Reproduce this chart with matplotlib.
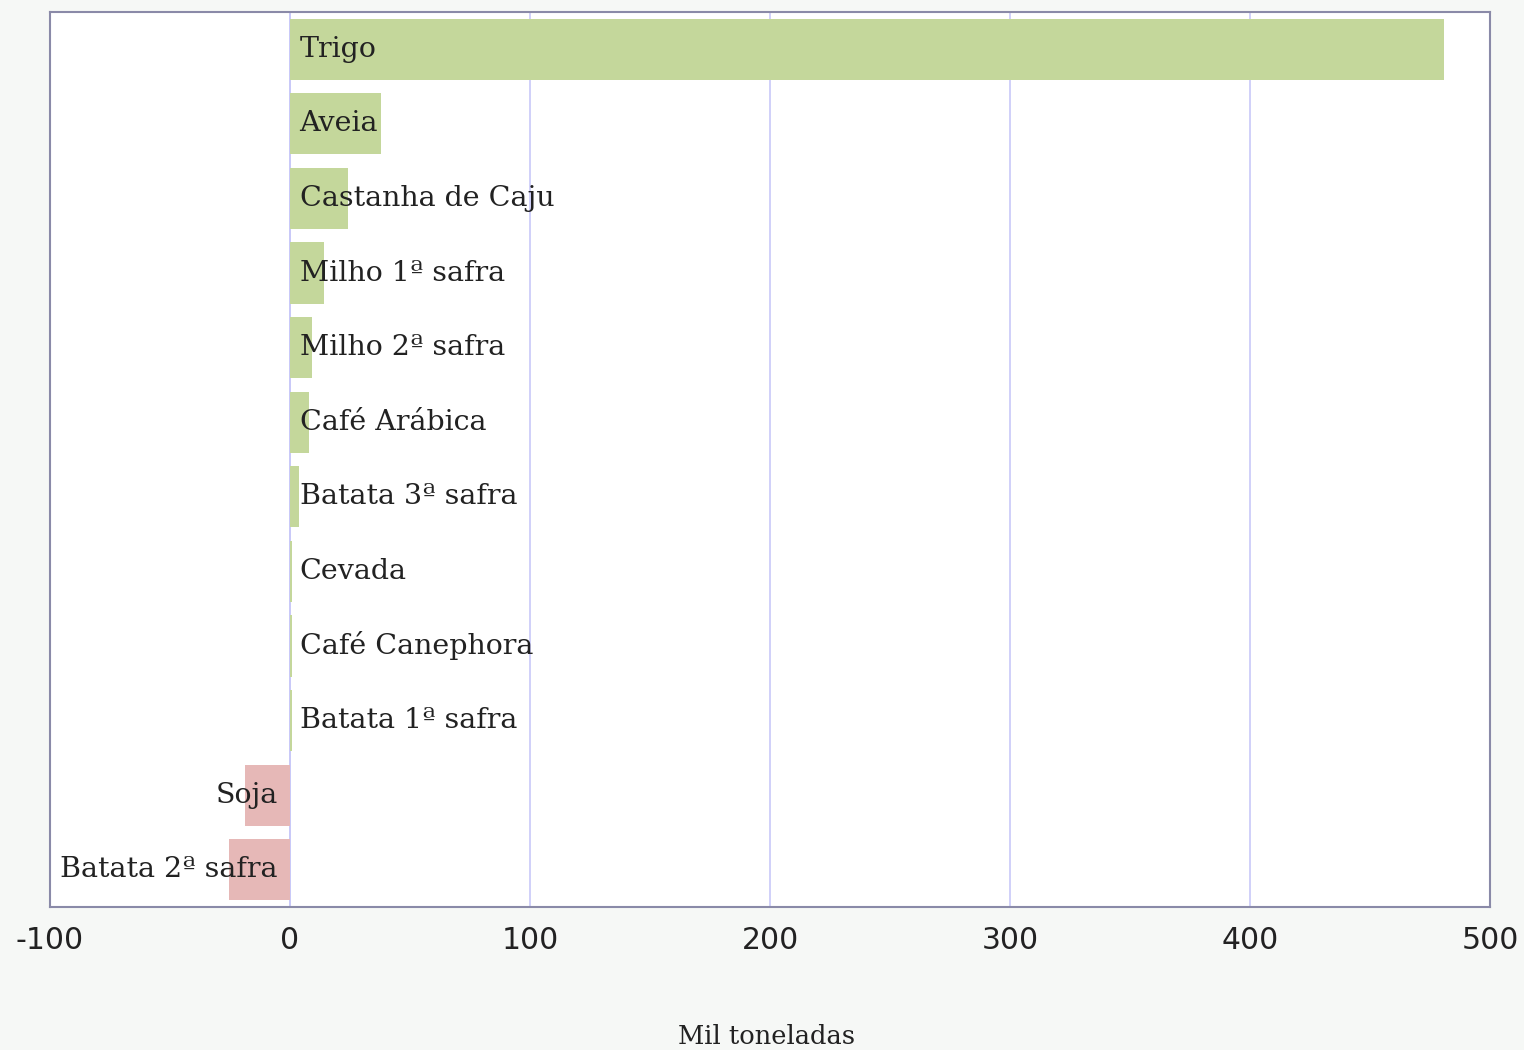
import matplotlib
matplotlib.use("Agg")
import matplotlib.pyplot as plt

# produtos e variacao (mil toneladas)
produtos = ["Trigo", "Aveia", "Castanha de Caju", "Milho 1ª safra", "Milho 2ª safra",
            "Café Arábica", "Batata 3ª safra", "Cevada", "Café Canephora",
            "Batata 1ª safra", "Soja", "Batata 2ª safra"]
valores = [481, 38, 24, 14, 9, 8, 3.7, 0.8, 0.7, 0.8, -18.7, -25.4]
xticks = [-100, 0, 100, 200, 300, 400, 500]

verde = "#c4d79b"
vermelho = "#e6b8b7"

fig = plt.figure(figsize=(15.24, 10.5), dpi=100, facecolor="#f6f8f6")
ax = fig.add_axes([50 / 1524, 1 - 907 / 1050, 1440 / 1524, 895 / 1050])
ax.set_facecolor("white")

pos = list(range(len(produtos)))
cores = [verde if v >= 0 else vermelho for v in valores]
ax.barh(pos, valores, height=0.82, color=cores, zorder=2)

for p, nome, v in zip(pos, produtos, valores):
    if v >= 0:
        ax.text(4, p, nome, ha="left", va="center", fontsize=20.5,
                family="DejaVu Serif", color="#222222", zorder=3)
    else:
        ax.text(-5, p, nome, ha="right", va="center", fontsize=20.5,
                family="DejaVu Serif", color="#222222", zorder=3)

ax.set_xlim(-100, 500)
ax.set_ylim(len(produtos) - 0.5, -0.5)
ax.set_xticks(xticks)
ax.set_xticklabels([str(t) for t in xticks], fontsize=21.5, color="#222222")
ax.set_yticks([])
ax.tick_params(axis="x", length=0, pad=14)
ax.grid(axis="x", color="#c8c8f8", linewidth=1.2, zorder=1)
ax.axvline(0, color="#c8c8f8", linewidth=1.2, zorder=1)
for s in ax.spines.values():
    s.set_color("#8a8aa8")
    s.set_linewidth(1.5)

fig.text(767 / 1524, 1 - 1037 / 1050, "Mil toneladas", ha="center", va="center",
         fontsize=18.5, family="DejaVu Serif", color="#222222")

fig.savefig("out.png", dpi=100, facecolor=fig.get_facecolor())
